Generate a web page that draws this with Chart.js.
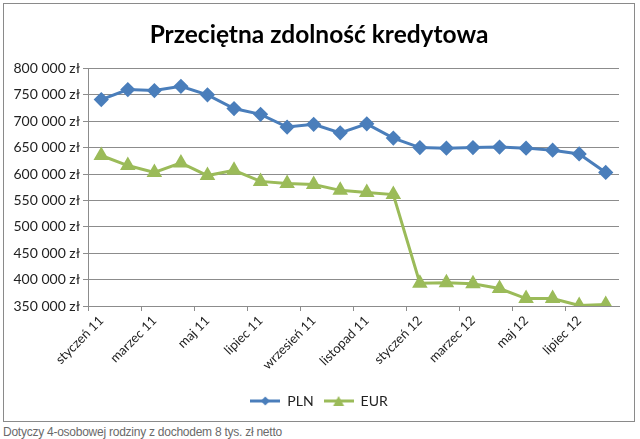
<!DOCTYPE html>
<html><head><meta charset="utf-8">
<script src="https://cdn.jsdelivr.net/npm/chart.js@4"></script>
<style>
html,body{margin:0;padding:0;background:#fff;}
#frame{position:absolute;left:3px;top:3px;width:630px;height:417px;border:1px solid #8a8a8a;}
canvas{display:block}
#note{position:absolute;left:3px;top:425px;font:12px "Liberation Sans",Arial,sans-serif;letter-spacing:-0.25px;color:#6a6a6a;white-space:nowrap;}
</style></head><body>
<div id="frame"><canvas id="c" width="630" height="417"></canvas></div>
<div id="note">Dotyczy 4-osobowej rodziny z dochodem 8 tys. zł netto</div>
<script>
const chartTitle = 'Przeciętna zdolność kredytowa';
const months = ['styczeń 11','luty 11','marzec 11','kwiecień 11','maj 11','czerwiec 11','lipiec 11','sierpień 11','wrzesień 11','październik 11','listopad 11','grudzień 11','styczeń 12','luty 12','marzec 12','kwiecień 12','maj 12','czerwiec 12','lipiec 12','sierpień 12'];
const plnValues = [741000,760000,758000,766000,750000,724000,713000,689000,694000,678000,695000,668000,650000,649000,650000,651000,649000,645000,638000,603000];
const eurValues = [635000,616000,603000,621000,597000,607000,586000,582000,580000,569000,565000,561000,393000,394000,392000,383000,364000,364000,351000,353000];
const yMin = 350000, yMax = 800000, yStep = 50000;

const BLUE = '#4a7ebb', GREEN = '#9bbb59', GRID = '#8c8c8c';
const FONT = 'Lato, "Open Sans", sans-serif';

function fmt(v){ return String(v).replace(/\B(?=(\d{3})+(?!\d))/g,' ') + ' zł'; }

function legendMarker(color, shape){
  const c = document.createElement('canvas'); c.width = 30; c.height = 12;
  const g = c.getContext('2d');
  g.strokeStyle = color; g.lineWidth = 3;
  g.beginPath(); g.moveTo(0,6); g.lineTo(30,6); g.stroke();
  g.fillStyle = color; g.beginPath();
  if (shape === 'diamond'){ g.moveTo(15,1.5); g.lineTo(19.5,6); g.lineTo(15,10.5); g.lineTo(10.5,6); }
  else { g.moveTo(15,1); g.lineTo(20.5,11); g.lineTo(9.5,11); }
  g.closePath(); g.fill();
  return c;
}
const markers = [legendMarker(BLUE,'diamond'), legendMarker(GREEN,'triangle')];

new Chart(document.getElementById('c'), {
  type: 'line',
  data: {
    labels: months,
    datasets: [
      {label:'PLN', data: plnValues, borderColor: BLUE, backgroundColor: BLUE, borderWidth: 3,
       pointStyle:'rectRot', pointRadius: 5.5, pointHoverRadius: 5.5, tension: 0, yAxisID: 'y'},
      {label:'EUR', data: eurValues, borderColor: GREEN, backgroundColor: GREEN, borderWidth: 3,
       pointStyle:'triangle', pointRadius: 6, pointHoverRadius: 6, tension: 0, yAxisID: 'y'}
    ]
  },
  options: {
    responsive: false, animation: false,
    layout: {padding: {left: 0, right: 0, top: 0, bottom: 3}},
    plugins: {
      title: {display: true, text: chartTitle, color: '#000',
        font: {family: FONT, size: 24.5, weight: 'bold'}, padding: {top: 16, bottom: 19}},
      legend: {position: 'bottom',
        labels: {usePointStyle: true, pointStyleWidth: 30, color: '#222',
          font: {family: FONT, size: 14},
          generateLabels: (chart) => chart.data.datasets.map((d,i) => ({
            text: d.label, pointStyle: markers[i], fillStyle: d.borderColor,
            strokeStyle: d.borderColor, lineWidth: 0, datasetIndex: i, fontColor: '#222'
          }))
        }
      },
      tooltip: {enabled: false}
    },
    scales: {
      x: {
        offset: true,
        grid: {offset: true, drawOnChartArea: false, drawTicks: true, tickLength: 5,
          tickColor: (ctx) => (ctx.index % 2 === 0 ? GRID : 'rgba(0,0,0,0)')},
        border: {color: GRID, width: 1},
        ticks: {autoSkip: false, minRotation: 45, maxRotation: 45, color: '#222',
          font: {family: FONT, size: 13}, padding: 2,
          callback: (v, i) => (i % 2 === 0 ? months[i] : '')},
        afterFit: (s) => { s.height = 78; }
      },
      y: {
        min: yMin, max: yMax,
        grid: {color: GRID, tickLength: 5, drawTicks: true},
        border: {color: GRID, width: 1},
        ticks: {stepSize: yStep, color: '#222', font: {family: FONT, size: 14}, padding: 3,
          callback: (v) => fmt(v)},
        afterFit: (s) => { s.width = 84; }
      },
      spacer: {
        type: 'linear', position: 'right', display: true,
        grid: {display: false, drawTicks: false}, border: {display: false},
        ticks: {display: false},
        afterFit: (s) => { s.width = 15; }
      }
    }
  }
});
</script>
</body></html>
